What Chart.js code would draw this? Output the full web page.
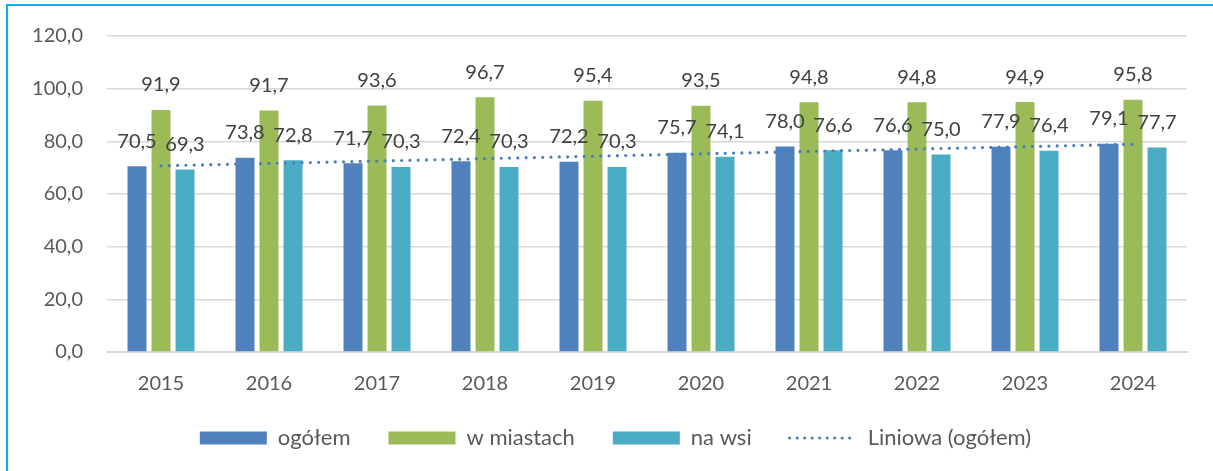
<!DOCTYPE html>
<html>
<head>
<meta charset="utf-8">
<script src="https://cdn.jsdelivr.net/npm/chart.js@4/dist/chart.umd.min.js"></script>
<style>
  html, body { margin: 0; padding: 0; background: #fff; }
  #wrap { position: relative; width: 1213px; height: 471px; overflow: hidden; }
  #frame { position: absolute; left: 6px; top: 4px; width: 1220px; height: 480px;
           border-top: 2px solid #00B0F0; border-left: 2px solid #00B0F0; box-sizing: border-box; }
  canvas { position: absolute; left: 0; top: 0; }
</style>
</head>
<body>
<div id="wrap">
  <canvas id="c" width="1213" height="471"></canvas>
  <div id="frame"></div>
</div>
<script>
const categories = ['2015','2016','2017','2018','2019','2020','2021','2022','2023','2024'];
const ogolem    = [70.5, 73.8, 71.7, 72.4, 72.2, 75.7, 78.0, 76.6, 77.9, 79.1];
const wMiastach = [91.9, 91.7, 93.6, 96.7, 95.4, 93.5, 94.8, 94.8, 94.9, 95.8];
const naWsi     = [69.3, 72.8, 70.3, 70.3, 70.3, 74.1, 76.6, 75.0, 76.4, 77.7];
// linear trend endpoints
const trendLabels = ['2015', '2024'];
const trendValues = [70.7, 78.9];
const yTicks = [0, 20, 40, 60, 80, 100, 120];

const FONT = 'Lato';
const fmt = v => v.toFixed(1).replace('.', ',');

const dataLabels = {
  id: 'dataLabels',
  afterDatasetsDraw(chart) {
    const ctx = chart.ctx;
    ctx.save();
    ctx.font = '20px ' + FONT;
    ctx.fillStyle = '#404040';
    ctx.textAlign = 'center';
    ctx.textBaseline = 'middle';
    chart.data.datasets.forEach((ds, di) => {
      if (ds.type === 'line') return;
      const meta = chart.getDatasetMeta(di);
      meta.data.forEach((el, i) => {
        ctx.fillText(fmt(ds.data[i]), el.x, el.y - 25);
      });
    });
    ctx.restore();
  }
};

// nudge the legend box (vertical gap vs. item spacing share one padding option in Chart.js)
const legendNudge = {
  id: 'legendNudge',
  afterLayout(chart) {
    const lg = chart.legend;
    if (!lg) return;
    lg.top -= 8; lg.bottom -= 8;
    lg.left += 22; lg.right += 22;
  }
};

new Chart(document.getElementById('c'), {
  data: {
    labels: categories,
    datasets: [
      { type: 'bar', label: 'ogółem', data: ogolem, backgroundColor: '#4F81BD', borderWidth: 0, order: 1 },
      { type: 'bar', label: 'w miastach', data: wMiastach, backgroundColor: '#9BBB59', borderWidth: 0, order: 1 },
      { type: 'bar', label: 'na wsi', data: naWsi, backgroundColor: '#4BACC6', borderWidth: 0, order: 1 },
      { type: 'line', label: 'Liniowa (ogółem)',
        data: trendLabels.map((l, i) => ({ x: l, y: trendValues[i] })),
        borderColor: '#4A7EBB', backgroundColor: '#4A7EBB', borderWidth: 3.2,
        borderDash: [0, 8.3], borderCapStyle: 'round', pointRadius: 0, fill: false, order: 0 }
    ]
  },
  options: {
    responsive: false,
    animation: false,
    datasets: { bar: { categoryPercentage: 0.667, barPercentage: 0.79 } },
    layout: { padding: { left: 0, right: 26, top: 34, bottom: 4 } },
    plugins: {
      tooltip: { enabled: false },
      legend: {
        position: 'bottom',
        labels: {
          font: { family: FONT, size: 22 },
          color: '#595959',
          usePointStyle: true,
          pointStyleWidth: 67,
          boxHeight: 13,
          padding: 38,
          sort: (a, b) => a.datasetIndex - b.datasetIndex,
          generateLabels(chart) {
            const items = Chart.defaults.plugins.legend.labels.generateLabels(chart);
            items.forEach(it => {
              const ds = chart.data.datasets[it.datasetIndex];
              if (ds.type === 'line') {
                it.pointStyle = 'line';
                it.lineWidth = 3.2;
                it.lineDash = [0, 7.5];
                it.lineCap = 'round';
              } else {
                it.pointStyle = 'rect';
                it.lineWidth = 0;
              }
            });
            return items;
          }
        }
      }
    },
    scales: {
      x: {
        grid: { display: false, drawTicks: false },
        border: { display: true, color: '#D9D9D9', width: 2 },
        ticks: { font: { family: FONT, size: 20 }, color: '#595959', padding: 20 },
        afterFit(scale) { scale.height = 45; }
      },
      y: {
        min: 0, max: 120,
        afterBuildTicks(scale) { scale.ticks = yTicks.map(v => ({ value: v })); },
        grid: { color: '#D9D9D9', lineWidth: 1.5, drawTicks: false },
        border: { display: false },
        ticks: { font: { family: FONT, size: 20 }, color: '#595959', padding: 24,
                 callback: v => fmt(v) },
        afterFit(scale) { scale.width = 107; }
      }
    }
  },
  plugins: [dataLabels, legendNudge]
});
</script>
</body>
</html>
